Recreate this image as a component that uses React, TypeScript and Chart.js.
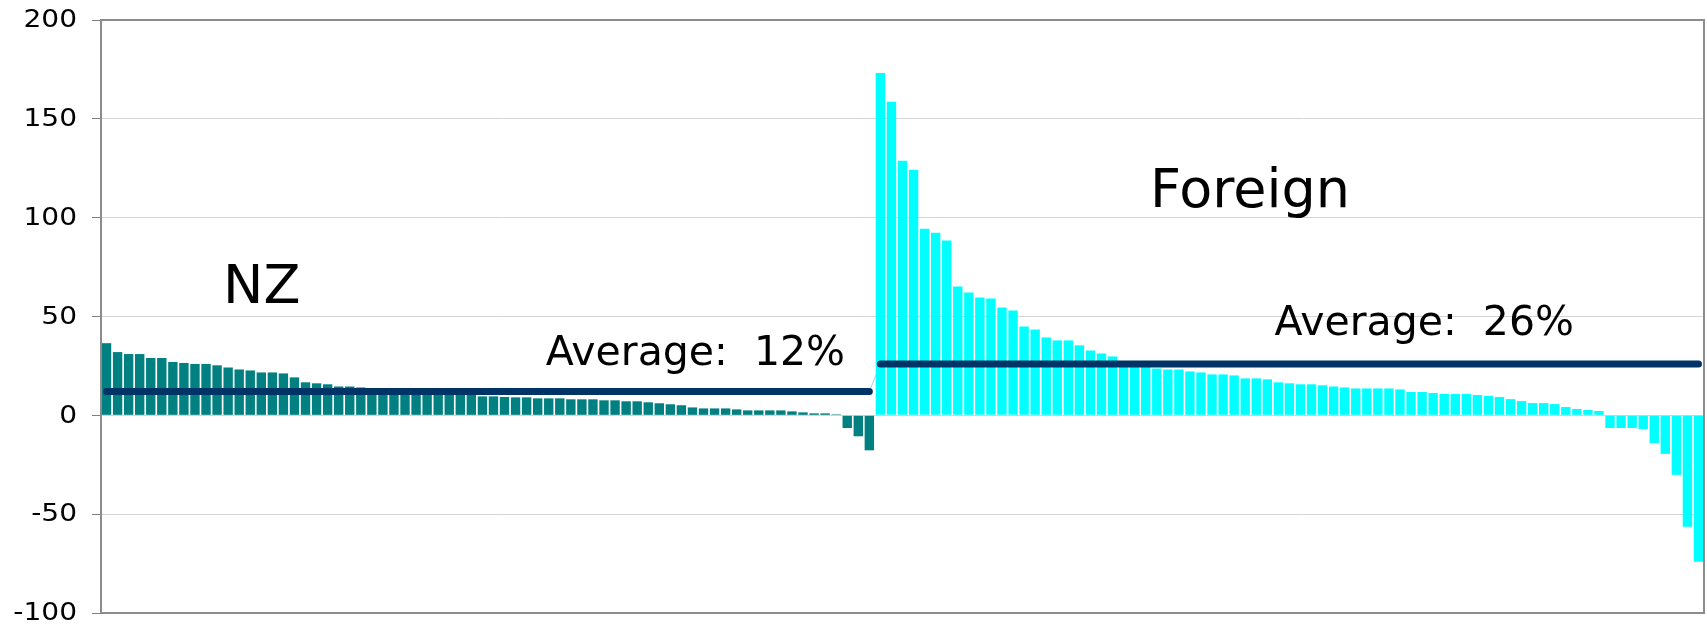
import { useEffect, useRef } from "react";
import { Chart, registerables } from "chart.js";

Chart.register(...registerables);

const nzValues = [
  36.5, 32, 31, 31, 29, 29, 27, 26.5, 26, 26,
  25.3, 24.2, 23.2, 22.7, 21.7, 21.7, 21.2, 19.2, 16.7, 16.2,
  15.7, 14.6, 14.6, 14.1, 13.5, 13.3, 13, 12.6, 12.3, 12,
  11.6, 11.2, 10.8, 10.4, 9.6, 9.6, 9.3, 9.1, 9.1, 8.6,
  8.6, 8.6, 8.1, 8.1, 8.1, 7.6, 7.6, 7.1, 7.1, 6.6,
  6.1, 5.6, 5.1, 4.0, 3.5, 3.5, 3.5, 3.0, 2.5, 2.5,
  2.5, 2.5, 2.0, 1.5, 1.0, 1.0, 0.5, -6.4, -10.6, -17.7,
];

const foreignValues = [
  173.2, 158.6, 128.8, 124.2, 94.4, 92.4, 88.4, 65.2, 62.1, 59.6,
  59.1, 54.5, 53.0, 45.0, 43.4, 39.4, 37.9, 37.9, 35.4, 32.8,
  31.3, 29.8, 27.5, 26.5, 25.2, 23.7, 23.2, 23.2, 22.2, 21.7,
  20.7, 20.7, 20.2, 18.7, 18.7, 18.2, 16.7, 16.2, 15.7, 15.7,
  15.2, 14.6, 14.1, 13.6, 13.6, 13.6, 13.6, 13.1, 11.8, 11.8,
  11.3, 10.8, 10.8, 10.8, 10.3, 9.8, 9.3, 8.2, 7.2, 6.2,
  6.2, 5.7, 4.2, 3.2, 2.7, 2.2, -6.4, -6.4, -6.4, -6.9,
  -14.0, -19.5, -30.1, -56.4, -74.1,
];

const nzAverage = 12;
const foreignAverage = 26;

const yMin = -100;
const yMax = 200;
const yStep = 50;

const groupLabels = ["NZ", "Foreign"];
const averageLabels = ["Average:  12%", "Average:  26%"];

export default function App() {
  const canvasRef = useRef<HTMLCanvasElement | null>(null);

  useEffect(() => {
    const canvas = canvasRef.current;
    if (!canvas) return;

    const nzN = nzValues.length;
    const frN = foreignValues.length;
    const total = nzN + frN;
    const categories = Array.from({ length: total }, (_, i) =>
      i < nzN ? `NZ ${i + 1}` : `Foreign ${i - nzN + 1}`
    );
    const nzData = categories.map((_, i) => (i < nzN ? nzValues[i] : null));
    const frData = categories.map((_, i) => (i >= nzN ? foreignValues[i - nzN] : null));
    const nzAvgData = categories.map((_, i) => (i < nzN ? nzAverage : null));
    const frAvgData = categories.map((_, i) => (i >= nzN ? foreignAverage : null));
    const connectorData = categories.map((_, i) =>
      i === nzN - 1 ? nzAverage : i === nzN ? foreignAverage : null
    );

    const annotations = [
      { text: groupLabels[0], x: 14.04, y: 56.9, size: 54 },
      { text: groupLabels[1], x: 103.44, y: 105.6, size: 54 },
      { text: averageLabels[0], x: 53.26, y: 25.3, size: 41 },
      { text: averageLabels[1], x: 119.2, y: 40.4, size: 41 },
    ];

    const tickLength = 9;
    const tickPad = 15;

    const overlay = {
      id: "overlay",
      afterDraw(chart: any) {
        const { ctx, chartArea, scales } = chart;
        ctx.save();
        ctx.strokeStyle = "#8c8c8c";
        ctx.lineWidth = 2;
        ctx.strokeRect(chartArea.left, chartArea.top, chartArea.right - chartArea.left, chartArea.bottom - chartArea.top);

        // y tick labels (slightly wide face, as in the original)
        ctx.fillStyle = "#000000";
        ctx.font = `24px "DejaVu Sans"`;
        ctx.textAlign = "right";
        ctx.textBaseline = "middle";
        const lx = chartArea.left - tickLength - tickPad;
        for (const t of scales.y.ticks) {
          const py = scales.y.getPixelForValue(t.value);
          ctx.save();
          ctx.translate(lx, py + 1);
          ctx.scale(1.17, 1);
          ctx.fillText(String(t.value), 0, 0);
          ctx.restore();
        }

        ctx.textAlign = "center";
        ctx.textBaseline = "alphabetic";
        for (const a of annotations) {
          ctx.font = `${a.size}px "DejaVu Sans"`;
          const px = scales.x.getPixelForValue(a.x);
          const py = scales.y.getPixelForValue(a.y);
          ctx.fillText(a.text, px, py);
        }
        ctx.restore();
      },
    };

    const chart = new Chart(canvas, {
      type: "bar",
      data: {
        labels: categories,
        datasets: [
          {
            type: "line",
            label: "NZ average",
            data: nzAvgData,
            borderColor: "#003366",
            borderWidth: 7,
            borderCapStyle: "round",
            pointRadius: 0,
            spanGaps: false,
            order: 0,
          } as any,
          {
            type: "line",
            label: "Foreign average",
            data: frAvgData,
            borderColor: "#003366",
            borderWidth: 7,
            borderCapStyle: "round",
            pointRadius: 0,
            spanGaps: false,
            order: 0,
          } as any,
          {
            type: "line",
            label: "connector",
            data: connectorData,
            borderColor: "#a9cdea",
            borderWidth: 1,
            pointRadius: 0,
            order: 2,
          } as any,
          {
            label: "NZ",
            data: nzData,
            backgroundColor: "#008080",
            borderWidth: 0,
            grouped: false,
            categoryPercentage: 1,
            barPercentage: 0.85,
            order: 1,
          } as any,
          {
            label: "Foreign",
            data: frData,
            backgroundColor: "#00FFFF",
            borderWidth: 0,
            grouped: false,
            categoryPercentage: 1,
            barPercentage: 0.85,
            order: 1,
          } as any,
        ],
      },
      options: {
        animation: false,
        responsive: true,
        maintainAspectRatio: false,
        layout: { padding: { top: 20, right: 3, bottom: 13, left: 0 } },
        plugins: {
          legend: { display: false },
          tooltip: { enabled: false },
        },
        scales: {
          x: {
            display: false,
            offset: true,
          },
          y: {
            min: yMin,
            max: yMax,
            afterFit: (scale: any) => {
              scale.width = 101;
              scale.paddingTop = 0;
              scale.paddingBottom = 0;
            },
            ticks: {
              stepSize: yStep,
              display: false,
            },
            grid: {
              color: "#d4d4d4",
              lineWidth: 1,
              tickColor: "#808080",
              tickLength: tickLength,
              drawTicks: true,
            },
            border: { display: true, color: "#808080", width: 2 },
          },
        },
      },
      plugins: [overlay],
    } as any);

    return () => chart.destroy();
  }, []);

  return (
    <div style={{ position: "fixed", left: 0, top: 0, width: 1707, height: 626, background: "#ffffff" }}>
      <canvas ref={canvasRef} />
    </div>
  );
}
